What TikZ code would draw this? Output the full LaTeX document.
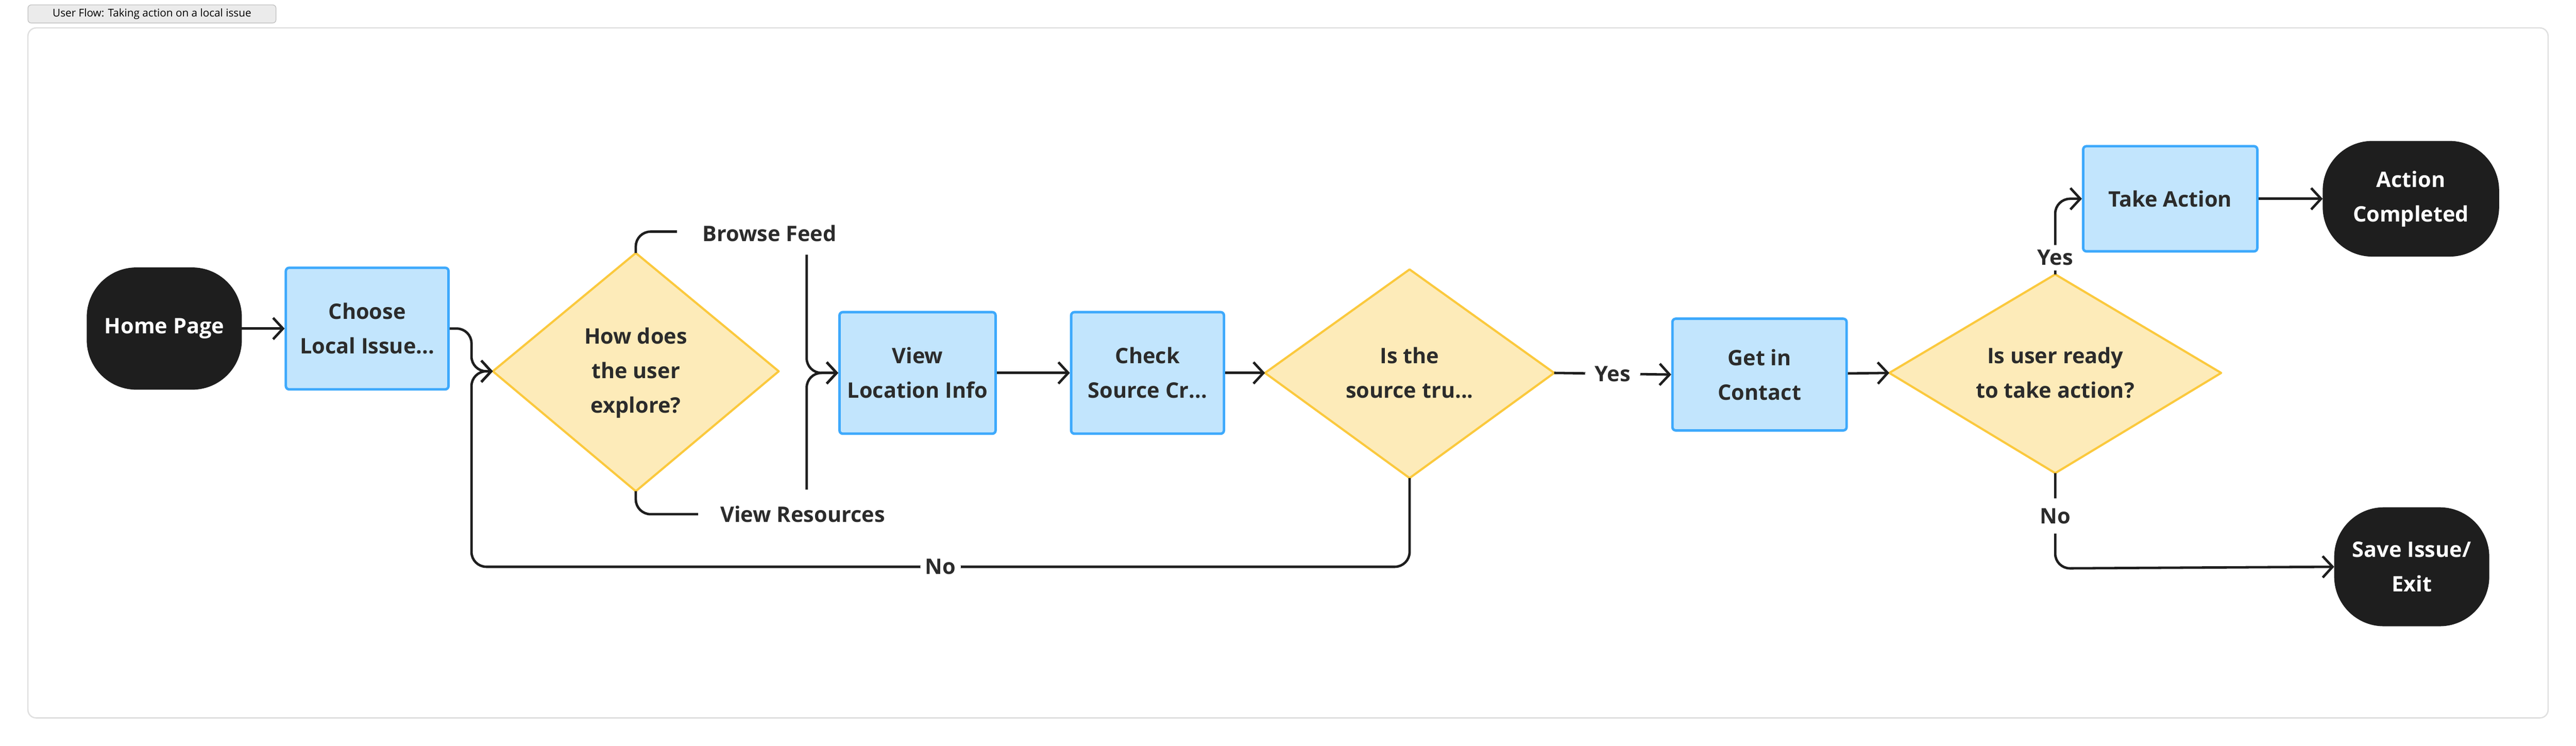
\documentclass[tikz,border=0pt]{standalone}
\usepackage{fontspec}
\setmainfont{Open Sans}
\usetikzlibrary{arrows.meta}
\definecolor{bfill}{HTML}{C2E5FD}
\definecolor{bline}{HTML}{3DA9FC}
\definecolor{yfill}{HTML}{FDEBB9}
\definecolor{yline}{HTML}{FBC93D}
\definecolor{dark}{HTML}{1E1E1E}
\definecolor{txt}{HTML}{2B2B2B}
\tikzset{
 lbl/.style={font=\fontsize{13}{21}\selectfont\bfseries, text=txt, align=center},
 term/.style={lbl, fill=dark, draw=dark, text=white, rounded corners=30pt, minimum width=94pt, minimum height=74pt, inner sep=0pt},
 proc/.style={lbl, fill=bfill, draw=bline, line width=1.5pt, rounded corners=2pt, inner sep=0pt},
 dia/.style={fill=yfill, draw=yline, line width=1.3pt, line join=round},
 arr/.style={draw=dark, line width=1.5pt, -{Straight Barb[length=6pt,width=13pt,line width=1.5pt]}, rounded corners=9pt},
 ln/.style={draw=dark, line width=1.5pt, rounded corners=9pt},
 edgelbl/.style={lbl, fill=white, inner sep=3pt}
}
\begin{document}
\begin{tikzpicture}[x=1pt,y=-1pt]
\useasboundingbox (0,0) rectangle (1568,454);
% title and frame
\node[draw=black!25, fill=black!8, rounded corners=2pt, font=\fontsize{6.5}{7}\selectfont, text=black, minimum width=151pt, minimum height=11pt, inner sep=0pt] (title) at (92.5,8.5) {User Flow: Taking action on a local issue};
\draw[black!12, line width=0.8pt, rounded corners=5pt] (17,17) rectangle (1551,437);

% nodes
\node[term] (home) at (100,200) {Home Page};
\node[proc, minimum width=99pt, minimum height=74pt] (choose) at (223.5,200) {Choose\\Local Issue...};

\coordinate (d1n) at (387,154); \coordinate (d1s) at (387,299);
\coordinate (d1w) at (300,226); \coordinate (d1e) at (474,226);
\path[dia] (d1n) -- (d1e) -- (d1s) -- (d1w) -- cycle;
\node[lbl] (d1) at (387,227) {How does\\the user\\explore?};

\node[proc, minimum width=95pt, minimum height=74pt] (vli) at (558.5,227) {View\\Location Info};
\node[proc, minimum width=93pt, minimum height=74pt] (csc) at (698.5,227) {Check\\Source Cr...};

\coordinate (d2n) at (858,164); \coordinate (d2s) at (858,291);
\coordinate (d2w) at (770,227); \coordinate (d2e) at (946,227);
\path[dia] (d2n) -- (d2e) -- (d2s) -- (d2w) -- cycle;
\node[lbl] (d2) at (858,227) {Is the\\source tru...};

\node[proc, minimum width=106pt, minimum height=68pt] (gic) at (1071,228) {Get in\\Contact};

\coordinate (d3n) at (1251,167); \coordinate (d3s) at (1251,288);
\coordinate (d3w) at (1150,227); \coordinate (d3e) at (1352,227);
\path[dia] (d3n) -- (d3e) -- (d3s) -- (d3w) -- cycle;
\node[lbl] (d3) at (1251,227) {Is user ready\\to take action?};

\node[proc, minimum width=106pt, minimum height=64pt] (ta) at (1321,121) {Take Action};
\node[term, minimum width=107pt, minimum height=70pt] (ac) at (1467.5,121) {Action\\Completed};
\node[term, minimum width=94pt, minimum height=72pt] (sie) at (1468,345) {Save Issue/\\Exit};

\node[lbl, anchor=west] (bf) at (424,142) {Browse Feed};
\node[lbl, anchor=west] (vr) at (435,313) {View Resources};
\coordinate (bfend) at (412,141);
\coordinate (vrend) at (425,313);
\coordinate (mtop) at (491,155);
\coordinate (mbot) at (491,298);

% connectors
\draw[arr] (home) -- (choose);
\draw[arr] (choose.east) -- (287,200) -- (287,226) -- (d1w);
\draw[ln] (d1n) -- (387,141) -- (bfend);
\draw[ln] (d1s) -- (387,313) -- (vrend);
\draw[arr] (mtop) -- (491,227) -- (vli.west);
\draw[arr] (mbot) -- (491,227) -- (vli.west);
\draw[arr] (vli) -- (csc);
\draw[arr] (csc) -- (d2w);
\draw[arr] (d2s) -- (858,345) -- node[edgelbl]{No} (287,345) -- (287,226) -- (d1w);
\draw[arr] (d2e) -- node[edgelbl, inner xsep=6pt]{Yes} (gic.west);
\draw[arr] (gic) -- (d3w);
\draw[arr] (d3n) -- node[edgelbl, pos=0.22]{Yes} (1251,121) -- (ta.west);
\draw[arr] (ta) -- (ac);
\draw[arr] (d3s) -- node[edgelbl, pos=0.45, inner ysep=6pt]{No} (1251,346) -- (sie.west);
\end{tikzpicture}
\end{document}
